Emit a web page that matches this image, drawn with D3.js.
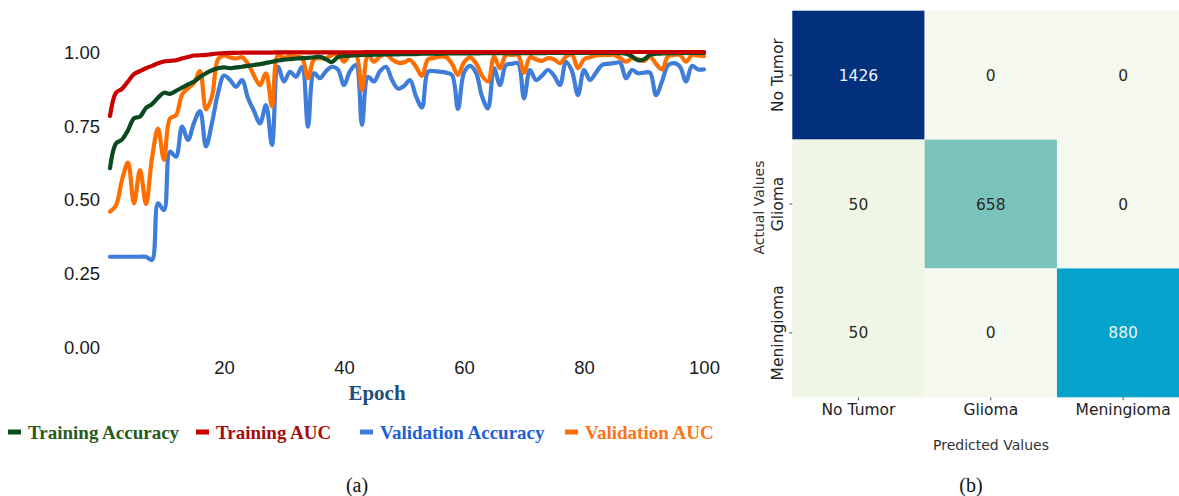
<!DOCTYPE html>
<html>
<head>
<meta charset="utf-8">
<script src="https://cdn.jsdelivr.net/npm/d3@7/dist/d3.min.js"></script>
<style>
  html, body { margin: 0; padding: 0; background: #ffffff; }
  svg { display: block; }
</style>
</head>
<body>
<svg id="fig" width="1179" height="496"></svg>
<script>
// ---- Training curves (panel a) ----
const epochs = d3.range(1, 101);

const trainingAccuracy = [
  0.606, 0.690, 0.703, 0.735, 0.775, 0.781, 0.810, 0.823, 0.845, 0.862,
  0.858, 0.868, 0.879, 0.890, 0.900, 0.915, 0.928, 0.938, 0.945, 0.948,
  0.945, 0.948, 0.950, 0.953, 0.956, 0.959, 0.963, 0.967, 0.971, 0.974,
  0.976, 0.978, 0.979, 0.980, 0.982, 0.984, 0.975, 0.966, 0.983, 0.986,
  0.988, 0.989, 0.990, 0.990, 0.991, 0.991, 0.992, 0.992, 0.992, 0.993,
  0.993, 0.993, 0.994, 0.994, 0.994, 0.994, 0.995, 0.995, 0.995, 0.995,
  0.995, 0.995, 0.996, 0.996, 0.996, 0.996, 0.996, 0.996, 0.996, 0.996,
  0.996, 0.996, 0.996, 0.997, 0.997, 0.997, 0.997, 0.997, 0.997, 0.997,
  0.997, 0.997, 0.997, 0.997, 0.997, 0.996, 0.994, 0.985, 0.972, 0.975,
  0.990, 0.994, 0.995, 0.996, 0.996, 0.997, 0.997, 0.997, 0.997, 0.997
];

const trainingAUC = [
  0.783, 0.862, 0.875, 0.900, 0.925, 0.935, 0.945, 0.953, 0.962, 0.968,
  0.970, 0.972, 0.978, 0.983, 0.988, 0.989, 0.990, 0.993, 0.995, 0.996,
  0.997, 0.997, 0.998, 0.998, 0.998, 0.998, 0.998, 0.998, 0.999, 0.999,
  0.999, 0.999, 0.999, 0.999, 0.999, 0.999, 0.999, 0.999, 0.999, 0.999,
  0.999, 0.999, 0.999, 1.000, 1.000, 1.000, 1.000, 1.000, 1.000, 1.000,
  1.000, 1.000, 1.000, 1.000, 1.000, 1.000, 1.000, 1.000, 1.000, 1.000,
  1.000, 1.000, 1.000, 1.000, 1.000, 1.000, 1.000, 1.000, 1.000, 1.000,
  1.000, 1.000, 1.000, 1.000, 1.000, 1.000, 1.000, 1.000, 1.000, 1.000,
  1.000, 1.000, 1.000, 1.000, 1.000, 1.000, 1.000, 1.000, 1.000, 1.000,
  1.000, 1.000, 1.000, 1.000, 1.000, 1.000, 1.000, 1.000, 1.000, 1.000
];

const validationAccuracy = [
  0.306, 0.306, 0.306, 0.306, 0.306, 0.306, 0.306, 0.295, 0.487, 0.464,
  0.662, 0.645, 0.747, 0.702, 0.760, 0.800, 0.680, 0.760, 0.860, 0.920,
  0.905, 0.882, 0.905, 0.843, 0.800, 0.758, 0.820, 0.685, 0.950, 0.900,
  0.933, 0.916, 0.950, 0.747, 0.928, 0.911, 0.935, 0.950, 0.940, 0.888,
  0.935, 0.956, 0.753, 0.916, 0.900, 0.935, 0.950, 0.905, 0.876, 0.885,
  0.905, 0.850, 0.812, 0.933, 0.935, 0.933, 0.930, 0.922, 0.807, 0.930,
  0.953, 0.930, 0.850, 0.809, 0.945, 0.888, 0.956, 0.960, 0.962, 0.843,
  0.939, 0.905, 0.920, 0.939, 0.920, 0.888, 0.967, 0.935, 0.854, 0.939,
  0.905, 0.930, 0.956, 0.960, 0.962, 0.964, 0.911, 0.939, 0.928, 0.930,
  0.930, 0.854, 0.900, 0.955, 0.962, 0.950, 0.900, 0.953, 0.941, 0.941
];

const validationAUC = [
  0.459, 0.480, 0.566, 0.625, 0.487, 0.600, 0.485, 0.640, 0.740, 0.634,
  0.775, 0.785, 0.855, 0.877, 0.895, 0.935, 0.805, 0.850, 0.975, 0.988,
  0.982, 0.978, 0.982, 0.960, 0.920, 0.888, 0.928, 0.815, 0.990, 0.980,
  0.986, 0.984, 0.980, 0.911, 0.975, 0.979, 0.979, 0.990, 0.995, 0.967,
  0.990, 0.990, 0.871, 0.990, 0.967, 0.985, 0.993, 0.975, 0.964, 0.965,
  0.973, 0.950, 0.919, 0.975, 0.980, 0.984, 0.983, 0.960, 0.922, 0.965,
  0.982, 0.962, 0.920, 0.900, 0.984, 0.945, 0.990, 0.990, 0.990, 0.930,
  0.982, 0.975, 0.970, 0.979, 0.975, 0.962, 0.985, 0.990, 0.945, 0.975,
  0.982, 0.988, 0.990, 0.990, 0.990, 0.980, 0.967, 0.979, 0.975, 0.970,
  0.984, 0.960, 0.941, 0.985, 0.990, 0.990, 0.967, 0.990, 0.988, 0.986
];

const yTicks = [0, 0.25, 0.5, 0.75, 1.0];
const xTicks = [20, 40, 60, 80, 100];

const seriesNames = ["Training Accuracy", "Training AUC", "Validation Accuracy", "Validation AUC"];
const lineColors = ["#0b4a1f", "#c80000", "#3f7ddb", "#ff6f00"];
const legendTextColors = ["#275a1c", "#a30d0d", "#1d5fd6", "#ff7418"];

// ---- Confusion matrix (panel b) ----
const actualClasses = ["No Tumor", "Glioma", "Meningioma"];
const predictedClasses = ["No Tumor", "Glioma", "Meningioma"];
const confusion = [
  [1426, 0, 0],
  [50, 658, 0],
  [50, 0, 880]
];

const svg = d3.select("#fig");

// ---------- panel (a) ----------
const x = d3.scaleLinear().domain([1, 100]).range([110, 704]);
const y = d3.scaleLinear().domain([0, 1]).range([347, 52]);

const gA = svg.append("g");

const yAxis = d3.axisLeft(y).tickValues(yTicks).tickFormat(d3.format(".2f")).tickSize(0).tickPadding(10);
gA.append("g")
  .attr("transform", "translate(100,0)")
  .call(yAxis)
  .call(g => g.select(".domain").remove())
  .call(g => g.selectAll("text")
    .attr("font-family", "Liberation Sans, Arial, sans-serif")
    .attr("font-size", 18.5)
    .attr("fill", "#1a1a1a")
    .attr("dy", "0.35em")
    .attr("x", 0));

const xAxis = d3.axisBottom(x).tickValues(xTicks).tickSize(0).tickPadding(0);
gA.append("g")
  .attr("transform", "translate(0,361)")
  .call(xAxis)
  .call(g => g.select(".domain").remove())
  .call(g => g.selectAll("text")
    .attr("font-family", "Liberation Sans, Arial, sans-serif")
    .attr("font-size", 18.5)
    .attr("fill", "#1a1a1a")
    .attr("dy", "0.71em"));

gA.append("text")
  .attr("x", 377).attr("y", 400)
  .attr("text-anchor", "middle")
  .attr("font-family", "Liberation Serif, Times New Roman, serif")
  .attr("font-weight", "bold")
  .attr("font-size", 21)
  .attr("fill", "#1f4e79")
  .text("Epoch");

const seriesData = [trainingAccuracy, trainingAUC, validationAccuracy, validationAUC];
const drawOrder = [2, 3, 0, 1];

const line = d3.line()
  .x((d, i) => x(epochs[i]))
  .y(d => y(d))
  .curve(d3.curveCatmullRom.alpha(0.5));

gA.append("g")
  .selectAll("path")
  .data(drawOrder)
  .join("path")
  .attr("d", k => line(seriesData[k]))
  .attr("fill", "none")
  .attr("stroke", k => lineColors[k])
  .attr("stroke-width", 4.2)
  .attr("stroke-linejoin", "round")
  .attr("stroke-linecap", "round");

// legend
const legendX = [8, 196, 360, 565];
const legend = gA.append("g").attr("transform", "translate(0,432)");
const items = legend.selectAll("g")
  .data(seriesNames)
  .join("g")
  .attr("transform", (d, i) => `translate(${legendX[i]},0)`);
items.append("rect")
  .attr("x", 0).attr("y", -2.5)
  .attr("width", 13).attr("height", 5)
  .attr("fill", (d, i) => lineColors[i]);
items.append("text")
  .attr("x", 20).attr("y", 0)
  .attr("dy", "0.35em")
  .attr("font-family", "Liberation Serif, Times New Roman, serif")
  .attr("font-weight", "bold")
  .attr("font-size", 19)
  .attr("fill", (d, i) => legendTextColors[i])
  .text(d => d);

svg.append("text")
  .attr("x", 357).attr("y", 492)
  .attr("text-anchor", "middle")
  .attr("font-family", "Liberation Serif, Times New Roman, serif")
  .attr("font-size", 20)
  .attr("fill", "#111")
  .text("(a)");

// ---------- panel (b) ----------
const gB = svg.append("g");
const cx = d3.scaleBand().domain(predictedClasses).range([792.3, 1189.3]);
const cy = d3.scaleBand().domain(actualClasses).range([10.7, 397.3]);
const color = d3.scaleLinear()
  .domain([0, 50, 658, 880, 1426])
  .range(["#f5f8ee", "#eff6e6", "#7ac3bb", "#04a3cc", "#02307c"]);

const cells = [];
confusion.forEach((row, r) => row.forEach((v, c) => cells.push({ r, c, v })));

gB.selectAll("rect.cell")
  .data(cells)
  .join("rect")
  .attr("class", "cell")
  .attr("x", d => cx(predictedClasses[d.c]))
  .attr("y", d => cy(actualClasses[d.r]))
  .attr("width", cx.bandwidth())
  .attr("height", cy.bandwidth())
  .attr("fill", d => color(d.v));

gB.selectAll("text.val")
  .data(cells)
  .join("text")
  .attr("class", "val")
  .attr("x", d => cx(predictedClasses[d.c]) + cx.bandwidth() / 2)
  .attr("y", d => cy(actualClasses[d.r]) + cy.bandwidth() / 2)
  .attr("dy", "0.36em")
  .attr("text-anchor", "middle")
  .attr("font-family", "DejaVu Sans, sans-serif")
  .attr("font-size", 15.5)
  .attr("fill", d => d.v > 800 ? "#eef4f8" : "#2b2b2b")
  .text(d => d.v);

gB.append("g")
  .attr("transform", "translate(792.3,0)")
  .call(d3.axisLeft(cy).tickSize(3).tickPadding(6))
  .call(g => g.select(".domain").remove())
  .call(g => g.selectAll(".tick line").attr("stroke", "#555"))
  .call(g => g.selectAll("text")
    .attr("font-family", "DejaVu Sans, sans-serif")
    .attr("font-size", 15.5)
    .attr("fill", "#222")
    .attr("transform", "rotate(-90)")
    .attr("text-anchor", "middle")
    .attr("x", 0).attr("y", -9).attr("dy", "0"));

gB.append("g")
  .attr("transform", "translate(0,397.3)")
  .call(d3.axisBottom(cx).tickSize(3).tickPadding(4))
  .call(g => g.select(".domain").remove())
  .call(g => g.selectAll(".tick line").attr("stroke", "#555"))
  .call(g => g.selectAll("text")
    .attr("font-family", "DejaVu Sans, sans-serif")
    .attr("font-size", 15.5)
    .attr("fill", "#222"));

gB.append("text")
  .attr("x", 991).attr("y", 450)
  .attr("text-anchor", "middle")
  .attr("font-family", "DejaVu Sans, sans-serif")
  .attr("font-size", 14)
  .attr("fill", "#333")
  .text("Predicted Values");

gB.append("text")
  .attr("transform", "translate(764,207.5) rotate(-90)")
  .attr("text-anchor", "middle")
  .attr("font-family", "DejaVu Sans, sans-serif")
  .attr("font-size", 14)
  .attr("fill", "#333")
  .text("Actual Values");

svg.append("text")
  .attr("x", 971).attr("y", 492)
  .attr("text-anchor", "middle")
  .attr("font-family", "Liberation Serif, Times New Roman, serif")
  .attr("font-size", 20)
  .attr("fill", "#111")
  .text("(b)");
</script>
</body>
</html>
